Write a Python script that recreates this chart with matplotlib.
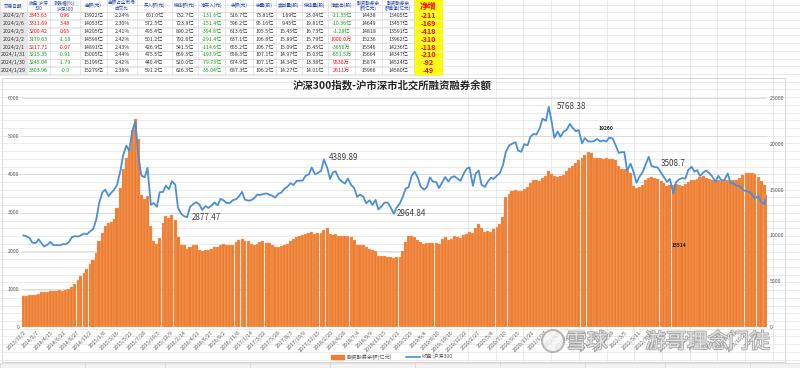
import matplotlib
matplotlib.use('Agg')
import matplotlib.pyplot as plt
import matplotlib.patches as mpatches
import matplotlib.patheffects as pe
from matplotlib.lines import Line2D
import numpy as np
import pandas as pd

plt.rcParams['font.family'] = ['Noto Sans CJK SC', 'DejaVu Sans']

# ---- chart data (semi-monthly) ----
dates = list(pd.date_range('2013-12-01', '2024-02-01', freq='SMS')) + [pd.Timestamp('2024-02-07')]

hs300 = [
    2400, 2380,
    2330, 2210, 2200, 2300, 2200, 2110, 2160, 2230, 2140, 2150, 2140, 2170, 2170, 2210, 2350, 2380, 2370, 2400, 2450, 2430, 2510, 2560, 2810, 3230,
    3530, 3600, 3430, 3520, 3600, 3720, 4090, 4500, 4750, 4620, 5150, 5380, 4470, 3970, 3920, 4170, 3200, 3250, 3150, 3530, 3540, 3700, 3610, 3820,
    3730, 3120, 2960, 2900, 2877.47, 3150, 3220, 3270, 3210, 3070, 3170, 3120, 3180, 3260, 3190, 3360, 3310, 3250, 3250, 3320, 3350, 3420, 3540, 3340,
    3310, 3320, 3380, 3470, 3460, 3480, 3500, 3470, 3440, 3390, 3490, 3520, 3620, 3670, 3770, 3720, 3830, 3830, 3840, 3960, 4000, 4180, 4010, 4030,
    4090, 4389.89, 4170, 3880, 4050, 4080, 3880, 3810, 3760, 3890, 3720, 3650, 3410, 3470, 3410, 3240, 3320, 3200, 3330, 3080, 3170, 3260, 3260, 3140,
    2964.84, 3130, 3250, 3420, 3630, 3660, 3970, 4070, 3910, 3680, 3600, 3660, 3920, 3810, 3800, 3640, 3800, 3930, 3810, 3920, 3950, 3890, 3830, 4000,
    4150, 4180, 3700, 4020, 4100, 3730, 3670, 3800, 3910, 3880, 3970, 4030, 4250, 4590, 4760, 4800, 4840, 4620, 4590, 4790, 4760, 4980, 5060, 5040,
    5210, 5460, 5400, 5768.38, 5400, 4960, 5120, 4980, 5120, 5160, 5320, 5220, 5130, 5160, 4810, 4950, 4860, 4860, 4870, 4930, 4860, 4890, 4860, 4960,
    4940, 4780, 4560, 4580, 4580, 4090, 4280, 4080, 3780, 3930, 4060, 4250, 4460, 4220, 4190, 4180, 4040, 3930, 3800, 3880, 3508.7, 3790, 3870, 3900,
    3890, 4110, 4200, 4070, 4110, 3960, 4050, 4100, 4030, 3950, 3800, 3960, 3840, 3850, 4020, 3780, 3760, 3700, 3690, 3590, 3560, 3550, 3470, 3370,
    3430, 3280, 3217.71, 3343.63,
]

margin = [
    3330, 3420,
    3460, 3500, 3510, 3600, 3780, 3830, 3870, 3900, 3950, 3960, 3990, 3980, 4050, 4150, 4400, 4700, 5100, 5550, 5900, 6300, 6850, 7300, 8100, 9400,
    10300, 11000, 11300, 11450, 11800, 13000, 15200, 17200, 18400, 19500, 21500, 22700, 20500, 14400, 14000, 14300, 11000, 9400, 9050, 9700, 11400, 12100, 11900, 12200,
    11700, 9800, 9000, 8900, 8500, 8700, 8900, 8900, 8450, 8300, 8400, 8450, 8550, 8750, 8750, 9000, 9050, 8950, 8900, 9000, 9300, 9500, 9600, 9400,
    9400, 9100, 8900, 9100, 9300, 9350, 9200, 9150, 8900, 8750, 8700, 8800, 8950, 9100, 9350, 9600, 9800, 9900, 10000, 10100, 10300, 10350, 10200, 10250,
    10250, 10600, 10800, 10100, 10050, 10100, 9950, 9900, 9900, 9950, 9800, 9550, 9000, 8900, 8950, 8700, 8550, 8400, 8300, 7700, 7700, 7750, 7650, 7600,
    7550, 7600, 7650, 8300, 9300, 9900, 9900, 9800, 9500, 9300, 9100, 9150, 9200, 9200, 9150, 9050, 9600, 9800, 9550, 9600, 9900, 9800, 9750, 10000,
    10200, 10400, 10300, 10800, 11200, 10800, 10400, 10500, 10400, 10700, 10900, 11200, 12000, 14200, 14500, 14900, 15000, 14900, 14800, 15100, 15300, 15700, 16000, 16100,
    15900, 16300, 16500, 17000, 16700, 16500, 16400, 16500, 16600, 17000, 17400, 17600, 17900, 18200, 18500, 18800, 19100, 19000, 18500, 18400, 18400, 18300, 18400, 18300,
    18300, 18200, 17600, 17300, 17200, 17000, 16800, 15400, 15200, 15300, 15500, 16000, 16300, 16400, 16300, 16200, 15900, 15700, 15400, 15500, 15500, 15600, 15500, 15400,
    15600, 15800, 16000, 16000, 16200, 16400, 16500, 16300, 16200, 16100, 16000, 16100, 15900, 16000, 16100, 16000, 16000, 16100, 16300, 16600, 16800, 16800, 16800, 16700,
    16400, 15966, 15546, 14438,
]

# labelled points on the index line and the two notes on the bars
line_labels = ['2016-03-01', '2018-01-15', '2019-01-01', '2021-02-15', '2022-11-01']
line_label_offsets = [(5, 0), (5, 2), (3, 0), (8, 0), (-13, 30)]
bar_notes = ['2021-12-01', '2022-12-01']
bar_note_texts = ['19260', '15514']
bar_note_offsets = [(0, 30), (0, -60)]

# ---- table data ----
headers = ['交易日期', '收盘:沪深\n300', '涨跌幅(%):\n沪深300', '金额(元)', '金额占全市场\n成交比',
           '买入额(元)', '偿还额(元)', '净买入(元)', '余额(元)', '余量(股)', '卖出量(股)',
           '偿还量(股)', '净卖出(股)', '融资融券余\n额(亿元)', '融资融券余\n额差值(亿元)', '净增']
t_date = ['2024/2/7', '2024/2/6', '2024/2/5', '2024/2/2', '2024/2/1', '2024/1/31', '2024/1/30', '2024/1/29']
t_close = ['3343.63', '3311.69', '3200.42', '3179.63', '3217.71', '3215.35', '3245.04', '3303.96']
t_chg = ['0.96', '3.48', '0.65', '-1.18', '-0.07', '-0.91', '-1.79', '-0.9']
t_amt = ['13922亿', '14053亿', '14205亿', '14599亿', '14891亿', '15005亿', '15199亿', '15279亿']
t_pct = ['2.24%', '2.30%', '2.41%', '2.42%', '2.43%', '2.44%', '2.42%', '2.38%']
t_buy = ['601.0亿', '572.5亿', '495.4亿', '501.2亿', '426.9亿', '475.5亿', '440.4亿', '591.2亿']
t_repay = ['732.7亿', '723.8亿', '890.2亿', '792.6亿', '541.5亿', '669.3亿', '520.0亿', '626.3亿']
t_net = ['-131.6亿', '-151.4亿', '-394.8亿', '-291.4亿', '-114.6亿', '-193.9亿', '-79.73亿', '-35.04亿']
t_bal = ['516.7亿', '596.2亿', '613.6亿', '637.1亿', '655.2亿', '658.3亿', '674.9亿', '687.3亿']
t_vol = ['73.81亿', '95.16亿', '105.5亿', '106.8亿', '106.7亿', '107.1亿', '107.1亿', '106.2亿']
t_sell = ['1.69亿', '9.45亿', '15.45亿', '15.89亿', '15.09亿', '14.97亿', '14.34亿', '14.27亿']
t_rvol = ['23.04亿', '19.81亿', '16.73亿', '15.79亿', '15.45亿', '15.03亿', '13.38亿', '14.01亿']
t_netsell = ['-21.35亿', '-10.36亿', '-1.28亿', '1000.0万', '-3656万', '-651.5万', '9530万', '2611万']
t_total = ['14438', '14649', '14818', '15236', '15546', '15664', '15874', '15966']
t_diff = ['13405亿', '13457亿', '13591亿', '13962亿', '14236亿', '14347亿', '14524亿', '14580亿']
t_inc = ['-211', '-169', '-418', '-310', '-118', '-210', '-92', '-49']
close_red = [True, True, True, False, True, False, False, False]

RED, GREEN, BLUE = '#ff0000', '#10a010', '#2442b8'
ORANGE, LINE = '#ED7D31', '#4A8FD8'
GRAY = '#595959'

fig = plt.figure(figsize=(8, 3.68), dpi=100)

# background "spreadsheet" layer in pixel coordinates
bg = fig.add_axes([0, 0, 1, 1])
bg.set_xlim(0, 800)
bg.set_ylim(368, 0)
bg.axis('off')
bg.set_zorder(-5)
for y in np.arange(4.5, 362, 7.72):
    bg.plot([0, 800], [y, y], color='#e3e3e3', lw=0.5)
for x in np.arange(468, 800, 27.7):
    bg.plot([x, x], [0, 362], color='#e3e3e3', lw=0.5)

# table
col_edges = [0, 27, 50, 80, 107, 137, 172, 198, 225, 253, 276, 302, 328, 355, 382, 414, 443]
head_h, row_h = 11.5, 7.9
n_rows = len(t_date)
table_bottom = head_h + row_h * n_rows
bg.add_patch(mpatches.Rectangle((0, 0), 443, table_bottom, facecolor='white', edgecolor='none'))
bg.add_patch(mpatches.Rectangle((0, head_h), 27, row_h * n_rows, facecolor='#e6e6e6', edgecolor='none'))
bg.add_patch(mpatches.Rectangle((414, 0), 29, table_bottom + 1.5, facecolor='#ffff00', edgecolor='none'))
for x in col_edges[:-1]:
    bg.plot([x, x], [0, table_bottom], color='#cfd6e4', lw=0.4)
for k in range(n_rows + 1):
    y = head_h + row_h * k
    bg.plot([0, 414], [y, y], color='#d6d6d6', lw=0.4)

centers = [(a + b) / 2 for a, b in zip(col_edges[:-1], col_edges[1:])]
for i, h in enumerate(headers[:-1]):
    bg.text(centers[i], head_h / 2, h, ha='center', va='center', fontsize=3.3,
            color=BLUE, linespacing=1.1)
bg.text(centers[-1], head_h / 2 + 1, headers[-1], ha='center', va='center', fontsize=6,
        color=RED, fontweight='bold')

columns = [t_date, t_close, t_chg, t_amt, t_pct, t_buy, t_repay, t_net, t_bal, t_vol,
           t_sell, t_rvol, t_netsell, t_total, t_diff]
for r in range(n_rows):
    yc = head_h + row_h * (r + 0.5)
    for c, col in enumerate(columns):
        color = '#333333'
        if c in (1, 2):
            color = RED if close_red[r] else GREEN
        elif c in (7, 12):
            color = GREEN if col[r].startswith('-') else RED
        bg.text(centers[c], yc, col[r], ha='center', va='center', fontsize=3.8, color=color)
    bg.text(centers[-1], yc, t_inc[r], ha='center', va='center', fontsize=5.2,
            color=RED, fontweight='bold')

# chart frame and bottom sheet-tab strip
bg.add_patch(mpatches.Rectangle((2, 77.5), 783, 284.5, facecolor='white', edgecolor='#d0d0d0', lw=0.6))
bg.add_patch(mpatches.Rectangle((0, 362.5), 800, 6, facecolor='#f2f2f2', edgecolor='#cccccc', lw=0.4))
for x in [85, 165, 250, 330, 415, 500, 585, 665, 750]:
    bg.plot([x, x], [363, 368], color='#d0d0d0', lw=0.4)

# ---- chart ----
L, R, B, T = 22 / 800, 767 / 800, 41 / 368, 270 / 368
ax = fig.add_axes([L, B, R - L, T - B])
ax.patch.set_visible(False)
ax_line = ax.twinx()

bar_max, line_max = 25000, 6000
for v in range(1000, line_max + 1, 1000):
    ax.axhline(v * bar_max / line_max, color='#d9d9d9', lw=0.6, zorder=0)
ax.bar(dates, margin, width=15.5, color=ORANGE, edgecolor='#f6b588', linewidth=0.25, zorder=2,
       label='融资融券余额(亿元)')
ax_line.plot(dates, hs300, color=LINE, lw=1.3, label='收盘:沪深300')

ax.set_ylim(0, bar_max)
ax_line.set_ylim(0, line_max)
ax.set_yticks(range(0, bar_max + 1, 5000))
ax_line.set_yticks(range(0, line_max + 1, 1000))
ax.yaxis.tick_right()
ax_line.yaxis.tick_left()

ax.set_xlim(pd.Timestamp('2013-11-24'), pd.Timestamp('2024-02-14'))
ticks = pd.date_range('2013-12-02', '2024-02-07', freq='67D')
ax.set_xticks(ticks)
ax.set_xticklabels([f'{d.year}/{d.month}/{d.day}' for d in ticks], rotation=45,
                   ha='right', rotation_mode='anchor')

for a in (ax, ax_line):
    for s in a.spines.values():
        s.set_visible(False)
    a.tick_params(length=0, labelsize=3.8, labelcolor=GRAY, pad=2)

date_index = {d: i for i, d in enumerate(dates)}
for d, off in zip(line_labels, line_label_offsets):
    i = date_index[pd.Timestamp(d)]
    ax_line.annotate(f'{hs300[i]:g}', xy=(dates[i], hs300[i]), xytext=off,
                     textcoords='offset pixels', fontsize=5.8, color='#404040',
                     ha='left', va='center')
for d, txt, off in zip(bar_notes, bar_note_texts, bar_note_offsets):
    i = date_index[pd.Timestamp(d)]
    ax.annotate(txt, xy=(dates[i], margin[i]), xytext=off, textcoords='offset pixels',
                fontsize=3.6, color='#222222', fontweight='bold', ha='center', va='center',
                zorder=5)

fig.text(392 / 800, 1 - 85 / 368, '沪深300指数-沪市深市北交所融资融券余额', ha='center',
         va='center', fontsize=7.5, fontweight='bold', color='#262626')

handles = [mpatches.Patch(color=ORANGE), Line2D([0], [0], color=LINE, lw=1.2)]
leg = fig.legend(handles, ['融资融券余额(亿元)', '收盘:沪深300'], loc='center',
                 bbox_to_anchor=(392 / 800, 1 - 357 / 368), ncol=2, frameon=False,
                 fontsize=3.8, handlelength=2.6, handleheight=0.8, columnspacing=2.5,
                 handletextpad=0.5)
for t in leg.get_texts():
    t.set_color(GRAY)

# watermark
fg = fig.add_axes([0, 0, 1, 1])
fg.set_xlim(0, 800)
fg.set_ylim(368, 0)
fg.axis('off')
stroke = [pe.withStroke(linewidth=1.2, foreground='#9a9a9a')]
fg.add_patch(mpatches.Circle((553, 341), 11, facecolor='#f4f4f4', edgecolor='#a8a8a8', lw=1.5, alpha=0.8))
fg.text(566, 342, '雪球', fontsize=15, color='#ececec', alpha=0.85, va='center', ha='left',
        path_effects=stroke)
fg.text(645, 342, '游哥理念门徒', fontsize=15, color='#ececec', alpha=0.85, va='center', ha='left',
        path_effects=stroke)

fig.savefig('out.png', dpi=100)
